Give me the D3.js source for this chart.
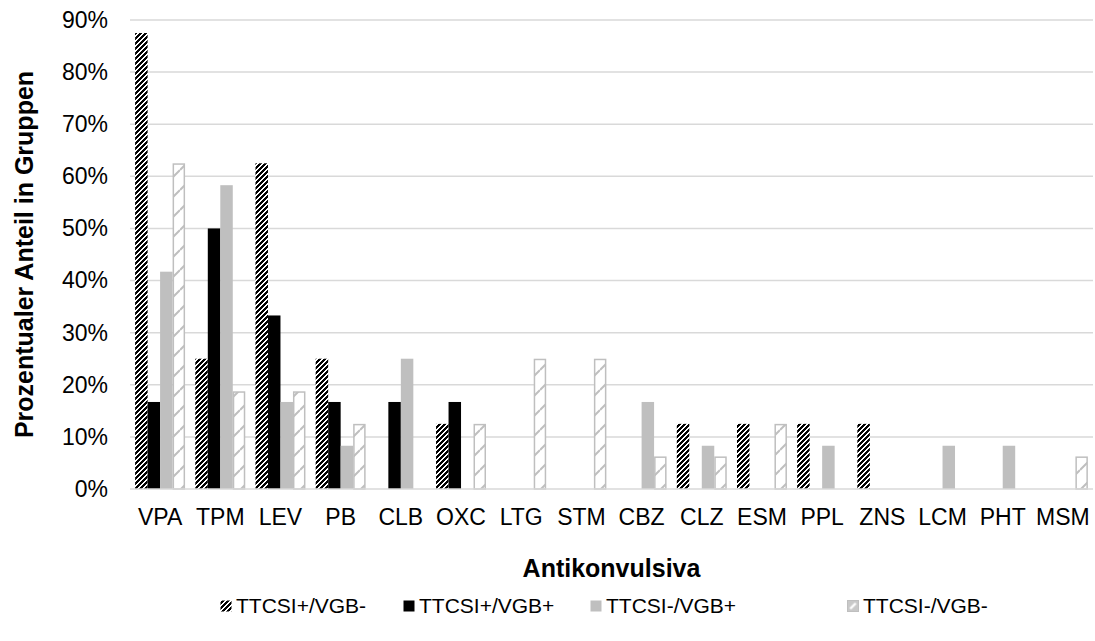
<!DOCTYPE html>
<html>
<head>
<meta charset="utf-8">
<script src="https://cdn.jsdelivr.net/npm/d3@7/dist/d3.min.js"></script>
<style>
  html, body { margin: 0; padding: 0; background: #fff; }
  svg { display: block; font-family: "Liberation Sans", Arial, sans-serif; }
</style>
</head>
<body>
<svg id="chart" width="1095" height="641"></svg>
<script>
// Antiepileptic drugs (x categories)
const categories = ["VPA", "TPM", "LEV", "PB", "CLB", "OXC", "LTG", "STM",
                    "CBZ", "CLZ", "ESM", "PPL", "ZNS", "LCM", "PHT", "MSM"];

// Series names (legend order)
const seriesNames = ["TTCSI+/VGB-", "TTCSI+/VGB+", "TTCSI-/VGB+", "TTCSI-/VGB-"];

// Share of patients per group, in percent
const ttcsiPosVgbNeg = [87.5, 25, 62.5, 25, 0, 12.5, 0, 0, 0, 12.5, 12.5, 12.5, 12.5, 0, 0, 0];
const ttcsiPosVgbPos = [16.7, 50, 33.3, 16.7, 16.7, 16.7, 0, 0, 0, 0, 0, 0, 0, 0, 0, 0];
const ttcsiNegVgbPos = [41.7, 58.3, 16.7, 8.3, 25, 0, 0, 0, 16.7, 8.3, 0, 8.3, 0, 8.3, 8.3, 0];
const ttcsiNegVgbNeg = [62.5, 18.75, 18.75, 12.5, 0, 12.5, 25, 25, 6.25, 6.25, 12.5, 0, 0, 0, 0, 6.25];

// Y axis ticks
const yTicks = [0, 10, 20, 30, 40, 50, 60, 70, 80, 90];

const seriesValues = [ttcsiPosVgbNeg, ttcsiPosVgbPos, ttcsiNegVgbPos, ttcsiNegVgbNeg];

const svg = d3.select("#chart");
const plot = { left: 130, right: 1093, top: 20, bottom: 489 };

const x = d3.scaleBand().domain(categories).range([plot.left, plot.right]).paddingInner(0).paddingOuter(0);
const bw = x.bandwidth();
const xs = d3.scaleBand().domain(d3.range(seriesNames.length))
  .range([bw * 0.085, bw * 0.915]).paddingInner(0);
const y = d3.scaleLinear().domain([0, 90]).range([plot.bottom, plot.top]);

// Fill patterns
const defs = svg.append("defs");

// dense dark upward diagonal, drawn pixel by pixel
const pDark = defs.append("pattern").attr("id", "darkDiag")
  .attr("patternUnits", "userSpaceOnUse").attr("width", 5).attr("height", 5);
pDark.append("rect").attr("width", 5).attr("height", 5).attr("fill", "#fff");
[[2, 0], [3, 0], [4, 0], [1, 1], [2, 1], [3, 1], [0, 2], [1, 2], [2, 2],
 [4, 3], [0, 3], [1, 3], [3, 4], [4, 4], [0, 4]].forEach(([px, py]) => {
  pDark.append("rect").attr("x", px).attr("y", py).attr("width", 1).attr("height", 1)
    .attr("fill", "#000").attr("shape-rendering", "crispEdges");
});

// light dashed upward diagonal
const pLight = defs.append("pattern").attr("id", "lightDiag")
  .attr("patternUnits", "userSpaceOnUse").attr("width", 20).attr("height", 20);
pLight.append("rect").attr("width", 20).attr("height", 20).attr("fill", "#fff");
pLight.append("path").attr("d", "M0,10 L10,0 M10,20 L20,10")
  .attr("stroke", "#bfbfbf").attr("stroke-width", 2).attr("fill", "none");

// small swatch version of the light pattern for the legend
const pLightKey = defs.append("pattern").attr("id", "lightKey")
  .attr("patternUnits", "objectBoundingBox").attr("width", 1).attr("height", 1)
  .attr("patternContentUnits", "objectBoundingBox");
pLightKey.append("rect").attr("width", 1).attr("height", 1).attr("fill", "#c8c8c8");
pLightKey.append("path").attr("d", "M0.25,0.75 L0.75,0.25")
  .attr("stroke", "#fff").attr("stroke-width", 0.22).attr("fill", "none");

const fills = ["url(#darkDiag)", "#000000", "#bfbfbf", "url(#lightDiag)"];
const keyFills = ["url(#darkDiag)", "#000000", "#bfbfbf", "url(#lightKey)"];
const strokes = ["none", "none", "none", "#bfbfbf"];

// gridlines
svg.append("g").selectAll("line").data(yTicks.filter(d => d > 0)).join("line")
  .attr("x1", plot.left).attr("x2", plot.right)
  .attr("y1", d => y(d)).attr("y2", d => y(d))
  .attr("stroke", "#d9d9d9").attr("stroke-width", 1.5);

// y axis labels
const yAxis = d3.axisLeft(y).tickValues(yTicks).tickFormat(d => d + "%").tickSize(0).tickPadding(22);
const gy = svg.append("g").attr("transform", `translate(${plot.left},0)`).call(yAxis);
gy.select(".domain").remove();
gy.selectAll("text").attr("font-size", 23).attr("fill", "#000")
  .attr("font-family", "Liberation Sans, Arial, sans-serif");

// bars
const groups = svg.append("g").selectAll("g").data(seriesNames).join("g");
groups.each(function (name, si) {
  const inset = strokes[si] !== "none" ? 0.75 : 0;
  d3.select(this).selectAll("rect")
    .data(seriesValues[si].map((v, i) => ({ cat: categories[i], v })).filter(d => d.v > 0))
    .join("rect")
    .attr("x", d => x(d.cat) + xs(si) + inset)
    .attr("width", xs.bandwidth() - 2 * inset)
    .attr("y", d => y(d.v) + inset)
    .attr("height", d => y(0) - y(d.v) - inset)
    .attr("fill", fills[si])
    .attr("stroke", strokes[si])
    .attr("stroke-width", 1.5);
});

// baseline
svg.append("line").attr("x1", plot.left).attr("x2", plot.right)
  .attr("y1", y(0)).attr("y2", y(0)).attr("stroke", "#d9d9d9").attr("stroke-width", 1.5);

// x axis labels
const xAxis = d3.axisBottom(x).tickSize(0).tickPadding(20);
const gx = svg.append("g").attr("transform", `translate(0,${plot.bottom})`).call(xAxis);
gx.select(".domain").remove();
gx.selectAll("text").attr("font-size", 23).attr("fill", "#000")
  .attr("font-family", "Liberation Sans, Arial, sans-serif");

// axis titles
svg.append("text").attr("x", (plot.left + plot.right) / 2).attr("y", 577)
  .attr("text-anchor", "middle").attr("font-size", 25).attr("font-weight", "bold")
  .text("Antikonvulsiva");
svg.append("text").attr("transform", `translate(33,${(plot.top + plot.bottom) / 2}) rotate(-90)`)
  .attr("text-anchor", "middle").attr("font-size", 25).attr("font-weight", "bold")
  .text("Prozentualer Anteil in Gruppen");

// legend
const legendX = [220, 403, 590, 847];
const legend = svg.append("g").selectAll("g").data(seriesNames).join("g")
  .attr("transform", (d, i) => `translate(${legendX[i]},600)`);
legend.append("rect").attr("x", 0.5).attr("y", 0.5).attr("width", 11).attr("height", 11)
  .attr("fill", (d, i) => keyFills[i])
  .attr("stroke", (d, i) => strokes[i]).attr("stroke-width", 1);
legend.append("text").attr("x", 16).attr("y", 13).attr("font-size", 21).attr("fill", "#000")
  .text(d => d);
</script>
</body>
</html>
